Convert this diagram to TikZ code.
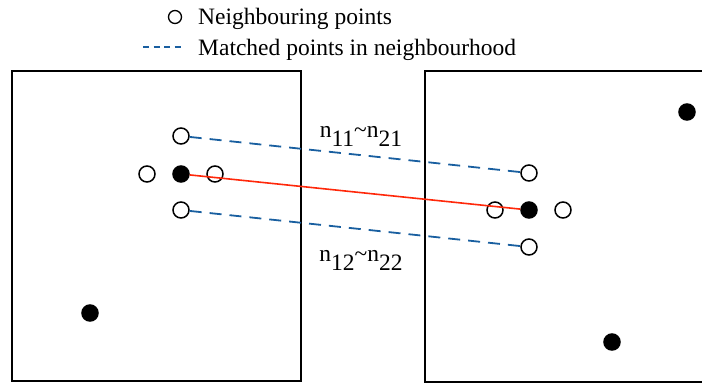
\documentclass[tikz,border=0pt]{standalone}
\usepackage{fontspec}
\setmainfont{Liberation Serif}
\usetikzlibrary{positioning}
\definecolor{matchblue}{RGB}{25,95,160}
\definecolor{corrred}{RGB}{255,40,10}
\tikzset{
  openpt/.style={circle,draw,line width=1.5pt,minimum width=15pt,minimum height=16pt,inner sep=0pt},
  fullpt/.style={openpt,fill=black},
  matchline/.style={matchblue,line width=1.8pt,dash pattern=on 12pt off 8pt},
  corrline/.style={corrred,line width=1.6pt},
  lbl/.style={font=\fontsize{23.5}{27}\selectfont,inner sep=0pt}
}
\newcommand{\sbs}[1]{\raisebox{-9pt}{#1}}
\begin{document}
\begin{tikzpicture}[x=1pt,y=-1pt]
  \useasboundingbox (0,0) rectangle (702,384);
  % legend
  \node[openpt,minimum width=13pt,minimum height=13pt,line width=1.3pt] (legpt) at (175,17) {};
  \node[lbl,anchor=base west] (legtxt1) at (198,24) {Neighbouring points};
  \coordinate (legl) at (143,47);
  \coordinate (legr) at (181,47);
  \draw[matchline,dash pattern=on 6pt off 4.5pt] (legl) -- (legr);
  \node[lbl,anchor=base west] (legtxt2) at (198,55) {Matched points in neighbourhood};
  % the two images
  \draw[line width=1.8pt] (12,71) rectangle (301,381);
  \draw[line width=1.8pt] (425,71) rectangle (712,382);
  % left image
  \node[fullpt] (p) at (181,174) {};
  \node[openpt] (pt) at (181,136) {};
  \node[openpt] (pb) at (181,210) {};
  \node[openpt] (pl) at (147,174) {};
  \node[openpt] (pr) at (215,174) {};
  \node[fullpt] (pa) at (90,313) {};
  % right image
  \node[fullpt] (q) at (529,210) {};
  \node[openpt] (qt) at (529,173) {};
  \node[openpt] (qb) at (529,247) {};
  \node[openpt] (ql) at (495,210) {};
  \node[openpt] (qr) at (563,210) {};
  \node[fullpt] (qa) at (687,112) {};
  \node[fullpt] (qc) at (612,342) {};
  % matches
  \draw[corrline] (p) -- (q);
  \draw[matchline] (pt) -- (qt);
  \draw[matchline] (pb) -- (qb);
  \node[lbl,anchor=base] (n1) at (361,137) {n\sbs{11}\textasciitilde n\sbs{21}};
  \node[lbl,anchor=base] (n2) at (361,261) {n\sbs{12}\textasciitilde n\sbs{22}};
\end{tikzpicture}
\end{document}
